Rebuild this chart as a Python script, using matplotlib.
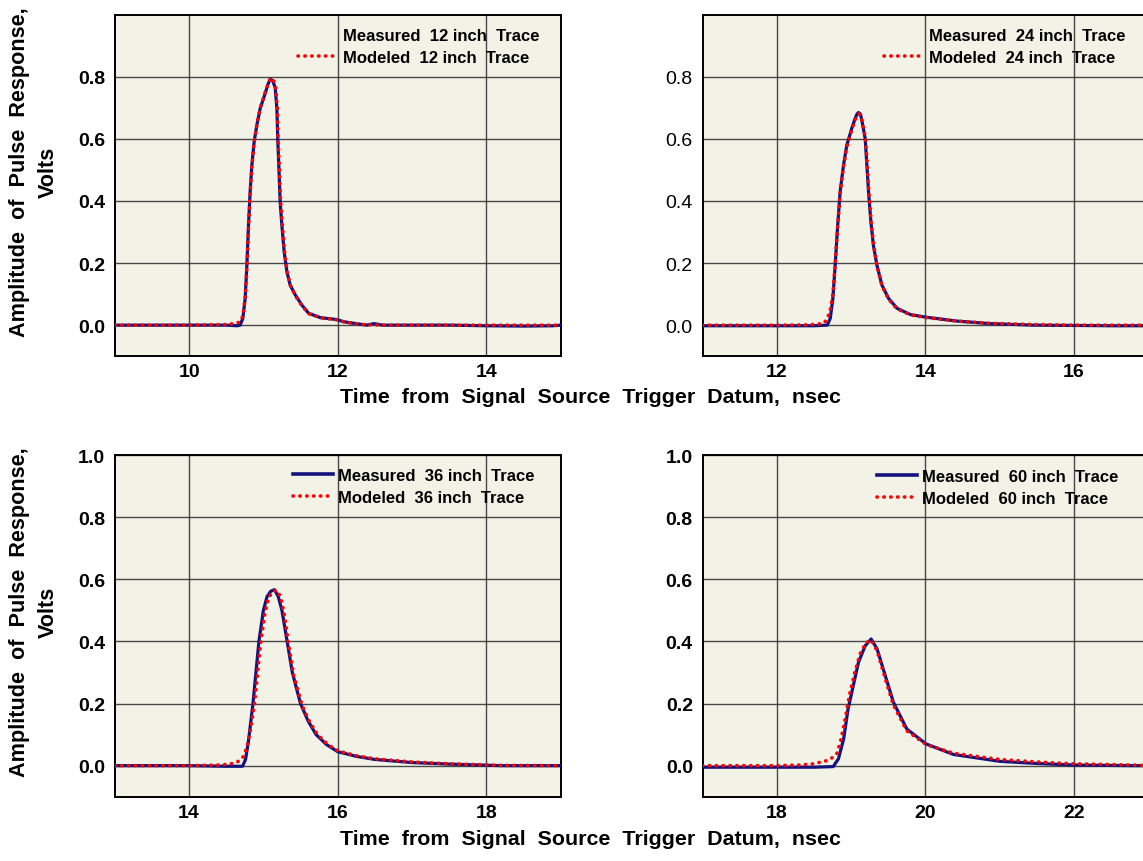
import matplotlib
matplotlib.use("Agg")
import matplotlib.pyplot as plt
from matplotlib.lines import Line2D
from matplotlib.ticker import FormatStrFormatter

plt.rcParams['font.family'] = ['Liberation Sans', 'DejaVu Sans']

# ---- data ----
lengths = ["12", "24", "36", "60"]

t12_meas = [9.0, 10.0, 10.5, 10.65, 10.687, 10.724, 10.755, 10.778, 10.80, 10.822, 10.845, 10.876,
            10.912, 10.957, 11.024, 11.06, 11.092, 11.125, 11.159, 11.182, 11.195, 11.213, 11.226,
            11.249, 11.28, 11.317, 11.361, 11.43, 11.52, 11.61, 11.77, 11.99, 12.08, 12.22, 12.39,
            12.49, 12.6, 13.0, 13.5, 14.0, 14.5, 14.9, 15.0]
v12_meas = [0.0, 0.0, 0.0, -0.002, 0.0, 0.022, 0.086, 0.193, 0.322, 0.43, 0.515, 0.591,
            0.644, 0.698, 0.746, 0.775, 0.792, 0.788, 0.765, 0.698, 0.591, 0.483, 0.397,
            0.322, 0.236, 0.172, 0.129, 0.097, 0.064, 0.038, 0.024, 0.018, 0.011, 0.006, 0.0,
            0.005, 0.0, 0.0, 0.0, -0.002, -0.003, -0.002, 0.0]
t12_mod = [9.0, 10.0, 10.5, 10.6, 10.687, 10.724, 10.755, 10.778, 10.80, 10.822, 10.845, 10.876,
           10.912, 10.957, 11.024, 11.065, 11.10, 11.135, 11.165, 11.188, 11.20, 11.218, 11.232,
           11.255, 11.285, 11.32, 11.365, 11.43, 11.52, 11.61, 11.77, 11.99, 12.08, 12.22, 12.39,
           12.6, 13.0, 13.5, 14.0, 14.5, 15.0]
v12_mod = [0.0, 0.0, 0.002, 0.005, 0.01, 0.03, 0.09, 0.19, 0.315, 0.425, 0.51, 0.59,
           0.645, 0.70, 0.75, 0.778, 0.796, 0.79, 0.765, 0.70, 0.595, 0.485, 0.40,
           0.325, 0.238, 0.172, 0.127, 0.095, 0.062, 0.037, 0.024, 0.017, 0.011, 0.005, 0.001,
           0.0, 0.0, 0.0, 0.0, 0.0, 0.0]

t24_meas = [11.0, 12.0, 12.5, 12.68, 12.72, 12.755, 12.786, 12.817, 12.853, 12.898, 12.943,
            13.01, 13.055, 13.08, 13.10, 13.125, 13.145, 13.19, 13.213, 13.235, 13.267, 13.30,
            13.348, 13.415, 13.505, 13.62, 13.80, 14.0, 14.43, 14.87, 15.45, 16.0, 16.5, 17.0]
v24_meas = [-0.002, -0.002, -0.002, 0.0, 0.022, 0.086, 0.193, 0.311, 0.43, 0.515, 0.58,
            0.634, 0.666, 0.680, 0.685, 0.680, 0.660, 0.601, 0.515, 0.43, 0.333, 0.258,
            0.193, 0.129, 0.086, 0.054, 0.034, 0.026, 0.013, 0.005, 0.0, -0.001, -0.002, -0.002]
t24_mod = [11.0, 12.0, 12.4, 12.54, 12.63, 12.68, 12.72, 12.755, 12.786, 12.817, 12.853, 12.898,
           12.943, 13.01, 13.055, 13.085, 13.105, 13.13, 13.15, 13.195, 13.218, 13.24, 13.27,
           13.305, 13.35, 13.415, 13.505, 13.62, 13.80, 14.0, 14.43, 14.87, 15.45, 16.0, 16.5, 17.0]
v24_mod = [0.0, 0.0, 0.001, 0.003, 0.006, 0.02, 0.05, 0.10, 0.20, 0.31, 0.425, 0.51,
           0.575, 0.63, 0.662, 0.676, 0.681, 0.676, 0.656, 0.60, 0.515, 0.43, 0.333,
           0.255, 0.19, 0.127, 0.083, 0.052, 0.033, 0.025, 0.013, 0.006, 0.002, 0.0, 0.0, 0.0]

t36_meas = [13.0, 14.0, 14.5, 14.72, 14.76, 14.80, 14.86, 14.90, 14.94, 15.0, 15.05, 15.10,
            15.15, 15.20, 15.25, 15.32, 15.39, 15.50, 15.60, 15.71, 15.85, 16.0, 16.25, 16.5,
            17.0, 17.5, 18.2, 19.0]
v36_meas = [0.0, 0.0, -0.002, -0.002, 0.02, 0.08, 0.20, 0.30, 0.40, 0.50, 0.545, 0.562,
            0.567, 0.545, 0.50, 0.40, 0.30, 0.20, 0.145, 0.10, 0.068, 0.045, 0.03, 0.02,
            0.01, 0.005, 0.0, 0.0]
t36_mod = [13.0, 14.0, 14.4, 14.55, 14.65, 14.72, 14.78, 14.83, 14.88, 14.92, 14.96, 15.02,
           15.07, 15.12, 15.18, 15.23, 15.28, 15.34, 15.41, 15.52, 15.62, 15.73, 15.87, 16.0,
           16.25, 16.5, 17.0, 17.5, 18.2, 19.0]
v36_mod = [0.0, 0.0, 0.002, 0.005, 0.012, 0.025, 0.06, 0.12, 0.20, 0.29, 0.39, 0.49,
           0.54, 0.56, 0.565, 0.545, 0.49, 0.39, 0.29, 0.195, 0.142, 0.10, 0.068, 0.048,
           0.032, 0.022, 0.012, 0.006, 0.001, 0.0]

t60_meas = [17.0, 18.0, 18.5, 18.76, 18.83, 18.90, 18.96, 19.03, 19.10, 19.19, 19.27, 19.35,
            19.46, 19.57, 19.75, 20.01, 20.38, 21.0, 21.5, 22.0, 22.8, 23.0]
v60_meas = [-0.005, -0.005, -0.005, -0.003, 0.022, 0.086, 0.183, 0.258, 0.333, 0.386, 0.408,
            0.376, 0.29, 0.204, 0.118, 0.07, 0.036, 0.014, 0.007, 0.002, 0.0, 0.0]
t60_mod = [17.0, 18.0, 18.3, 18.5, 18.67, 18.75, 18.81, 18.86, 18.92, 18.98, 19.05, 19.12,
           19.20, 19.27, 19.35, 19.46, 19.57, 19.75, 20.01, 20.38, 21.0, 21.5, 22.0, 22.8, 23.0]
v60_mod = [0.0, 0.0, 0.002, 0.006, 0.016, 0.026, 0.04, 0.08, 0.15, 0.23, 0.30, 0.36,
           0.395, 0.405, 0.37, 0.28, 0.195, 0.112, 0.068, 0.04, 0.02, 0.012, 0.006, 0.002, 0.0]

measured = [(t12_meas, v12_meas), (t24_meas, v24_meas), (t36_meas, v36_meas), (t60_meas, v60_meas)]
modeled = [(t12_mod, v12_mod), (t24_mod, v24_mod), (t36_mod, v36_mod), (t60_mod, v60_mod)]
xlims = [(9, 15), (11, 17), (13, 19), (17, 23)]
xticks = [[10, 12, 14], [12, 14, 16], [14, 16, 18], [18, 20, 22]]
yticks_top = [0.0, 0.2, 0.4, 0.6, 0.8]
yticks_bottom = [0.0, 0.2, 0.4, 0.6, 0.8, 1.0]

# ---- layout ----
W, H = 1143, 862
fig = plt.figure(figsize=(W / 100, H / 100), dpi=100)
fig.patch.set_facecolor('white')

lefts = [114.8, 702.5, 114.8, 702.5]
tops = [15.7, 15.7, 456.2, 456.2]
aw, ah = 445.7, 341.5
# legend anchors (handle start x, top y) in pixels
leg_pos = [(298, 29), (884, 29), (293, 469), (877, 470)]

navy = '#13137f'
red = '#ff0000'
bg = '#f2f2e6'

for i in range(4):
    ax = fig.add_axes([lefts[i] / W, 1 - (tops[i] + ah) / H, aw / W, ah / H])
    ax.set_facecolor(bg)
    t, v = measured[i]
    ax.plot(t, v, color=navy, lw=2.3, solid_capstyle='round', solid_joinstyle='round', zorder=3)
    t, v = modeled[i]
    ax.plot(t, v, color=red, lw=2.6, linestyle=(0, (0.1, 1.8)),
            dash_capstyle='round', zorder=4)
    ax.set_xlim(*xlims[i])
    ax.set_ylim(-0.1, 1.0)
    ax.set_xticks(xticks[i])
    top = i < 2
    ax.set_yticks(yticks_top if top else yticks_bottom)
    ax.yaxis.set_major_formatter(FormatStrFormatter('%.1f'))
    ax.grid(True, color='#2a2a2a', lw=1.0, alpha=0.85, zorder=1)
    ax.set_axisbelow(True)
    ax.tick_params(length=0, labelsize=14)
    ax.tick_params(axis='x', pad=5)
    ax.tick_params(axis='y', pad=7)
    for lab in ax.get_xticklabels():
        lab.set_fontweight('bold')
    if i != 1:
        for lab in ax.get_yticklabels():
            lab.set_fontweight('bold')
    for s in ax.spines.values():
        s.set_color('black')
        s.set_linewidth(1.4)

    if top:
        h_meas = Line2D([], [], color='none')
    else:
        h_meas = Line2D([], [], color=navy, lw=2.6)
    h_mod = Line2D([], [], color=red, lw=2.6, linestyle=(0, (0.1, 1.8)), dash_capstyle='round')
    lx, ly = leg_pos[i]
    ax.legend([h_meas, h_mod],
              ["Measured  %s inch  Trace" % lengths[i], "Modeled  %s inch  Trace" % lengths[i]],
              loc='upper left', bbox_to_anchor=(lx / W, 1 - ly / H), bbox_transform=fig.transFigure,
              frameon=False, borderpad=0, borderaxespad=0, handlelength=2.4, handletextpad=0.3,
              labelspacing=0.4, prop=dict(weight='bold', size=12))

xlabel = "Time  from  Signal  Source  Trigger  Datum,  nsec"
ylabel = "Amplitude  of  Pulse  Response,\nVolts"
fig.text(590 / W, 1 - 398 / H, xlabel, ha='center', va='center', fontsize=15.4, fontweight='bold')
fig.text(590 / W, 1 - 840 / H, xlabel, ha='center', va='center', fontsize=15.4, fontweight='bold')
fig.text(34 / W, 1 - 172 / H, ylabel, ha='center', va='center', rotation=90, linespacing=1.45,
         multialignment='center', fontsize=15.6, fontweight='bold')
fig.text(34 / W, 1 - 612 / H, ylabel, ha='center', va='center', rotation=90, linespacing=1.45,
         multialignment='center', fontsize=15.6, fontweight='bold')

fig.savefig('out.png', dpi=100)
